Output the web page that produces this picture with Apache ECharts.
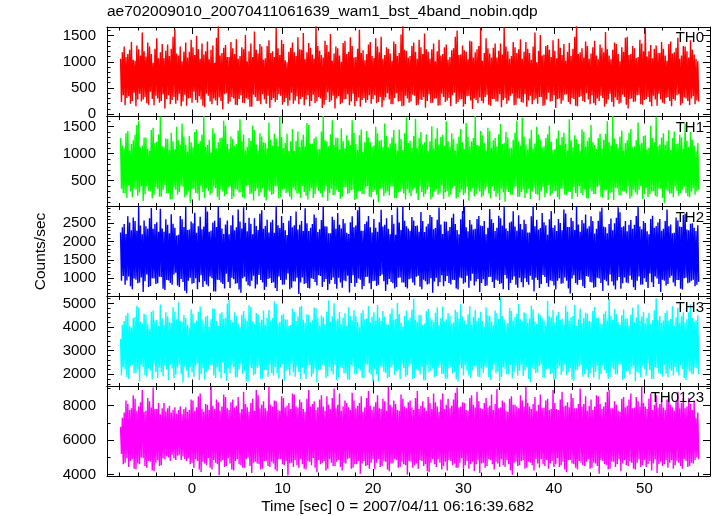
<!DOCTYPE html>
<html><head><meta charset="utf-8">
<script src="https://cdn.jsdelivr.net/npm/echarts@6/dist/echarts.min.js"></script>
<style>html,body{margin:0;padding:0;background:#fff}#c{width:717px;height:516px}</style>
</head><body><div id="c"></div><script>
// ---------- data ----------
const titleText = "ae702009010_20070411061639_wam1_bst_4band_nobin.qdp";
const xAxisName = "Time [sec] 0 = 2007/04/11 06:16:39.682";
const yAxisName = "Counts/sec";
const panelNames = ["TH0", "TH1", "TH2", "TH3", "TH0123"];
const timeStart = -7.9;
const timeStep = 0.1;

const th0 = [
1060,230,1180,360,1290,170,1090,310,1150,340,1230,200,1380,250,1040,410,1020,150,1310,280,1240,390,1120,240,1560,280,1200,330,1100,210,1370,180,1290,430,1150,290,980,170,1250,350,
1450,300,1070,220,1180,250,1340,380,1070,110,1210,290,1330,360,1110,190,1250,270,1480,330,1620,200,1160,260,1120,390,1290,150,1010,240,1190,370,1370,160,1080,300,1190,310,1420,220,
1280,430,1130,270,1500,220,1240,340,1060,280,1350,160,1140,130,1200,390,1390,350,1050,240,1230,190,1310,300,980,260,1460,170,1680,320,1120,250,1170,90,1270,380,1320,400,1090,200,
1090,240,1380,330,1260,300,1150,180,1430,170,1060,290,1110,360,1280,220,1240,210,1510,310,1010,280,1200,140,1350,140,1090,370,1580,330,1230,250,1160,250,1340,190,1290,380,1040,280,
1070,200,1300,350,1410,120,1170,270,1200,310,1090,230,1650,270,1260,380,1130,350,1420,180,1340,230,1030,310,990,160,1190,260,1270,410,1370,200,1180,260,1110,340,1470,190,1240,290,
1230,330,1550,170,1050,280,1180,360,1360,150,1270,250,1140,370,1060,210,1690,240,1300,330,1210,300,1130,120,1080,180,1400,270,1320,420,1190,230,1530,260,1020,350,1160,110,1290,300,
1260,340,1120,190,1000,220,1360,280,1400,290,1150,380,1190,170,1470,240,1300,390,1080,150,1090,250,1250,320,1610,140,1170,270,1220,310,1030,220,1150,270,1330,360,1380,200,1110,290,
1070,360,1450,210,1290,230,1180,330,1480,130,1060,260,1130,320,1280,400,1250,280,1160,190,1020,190,1390,310,1340,400,1110,240,1170,250,1520,150,1700,160,1230,350,1210,300,1080,220,
1110,240,1300,370,1370,350,1190,170,1060,180,1420,280,1280,270,1150,330,1540,120,1240,250,1190,380,1060,210,1240,220,1350,300,1010,300,1200,160,1420,170,1120,390,1150,330,1280,230,
1330,260,1040,310,1090,150,1220,360,1260,410,1480,200,1600,230,1130,280,1140,290,1310,140,1220,190,1190,340,1050,350,1400,260,1390,100,1080,300,1180,270,1240,210,1300,320,1650,250,
1020,210,1170,330,1450,370,1260,180,1160,160,1080,290,1270,290,1350,240,1080,240,1210,380,1350,130,1140,270,1660,310,1290,200,1200,260,1060,350,1110,390,1380,170,1280,180,1170,300,
1240,300,1430,230,1060,220,1190,380,1380,140,1250,260,1170,350,1040,190,1290,270,1560,300,990,200,1210,330,1510,330,1120,160,1140,170,1300,280,1320,410,1230,240,1090,250,1410,360,
1210,120,1070,290,1440,300,1270,200,1130,260,1340,370,1020,380,1190,230,1360,190,1110,310,1250,290,1480,160,1690,150,1150,330,1180,340,1260,250,1080,230,1390,400,1300,280,1060,190,
1160,360,1280,210,1400,170,1120,300,1050,250,1330,350,1270,310,1180,140,1570,200,1240,280,1120,390,1050,230,1230,140,1370,320,1340,270,1150,200,1010,220,1280,370,1190,330,1460,180,
1480,110,1130,290,1150,300,1300,230,1260,240,1070,360,1090,370,1420,190,1350,180,1200,270,1640,290,1100,330,1200,230,1320,150,1070,350,1250,280,1310,160,1170,390,1170,280,1380,220,
1250,200,1120,310,1020,330,1340,250,1390,150,1160,290,1180,260,1270,360,1460,380,1060,170,1120,210,1300,320,1290,300,1200,250,1080,170,1410,300,1230,340,1140,190,1060,260,1010,240
];
const th1 = [
1290,350,1150,270,1100,260,1380,180,1420,410,1060,300,1180,190,1250,360,1350,330,1530,220,1610,280,1120,390,1150,120,1300,250,1300,390,1090,310,1050,300,1440,170,1480,240,1200,380,
1220,350,1360,200,1690,200,1140,330,1130,420,1280,260,1270,270,1070,150,1390,160,1230,380,1080,330,1500,240,1250,290,1160,410,1560,380,1320,190,1170,230,1040,300,1330,90,1210,350,
1120,340,1400,270,1450,260,1190,130,1240,400,1350,290,1700,180,1130,360,1160,310,1260,240,1020,270,1470,390,1380,360,1100,200,1210,140,1290,330,1300,300,1610,210,1520,250,1180,370,
1090,390,1320,160,1270,200,1150,340,1180,330,1430,280,1640,280,1230,190,1350,170,1060,400,1130,420,1290,250,1240,260,1520,130,1440,310,1170,350,1060,210,1380,280,1320,360,1210,190,
1200,130,1100,320,1580,300,1260,240,1150,250,1370,400,1280,390,1140,170,1690,190,1310,330,1110,340,1200,270,1370,280,1050,200,1230,150,1460,370,1050,320,1240,260,1410,260,1130,180,
1260,400,1350,290,1140,220,1570,150,1530,300,1190,360,1190,180,1280,250,1320,370,1090,310,1080,260,1410,190,1700,310,1250,400,1230,120,1140,270,1360,350,1620,230,1160,240,1300,330,
1290,290,1080,160,1470,200,1230,380,1100,380,1340,250,1250,270,1160,320,1620,330,1390,140,1180,160,1070,300,1340,310,1450,250,1030,250,1210,370,1420,400,1300,200,1210,190,1130,290,
1150,320,1500,240,1380,100,1240,350,1260,350,1120,210,1560,270,1330,300,1120,230,1190,390,1300,390,1440,180,1190,180,1060,280,1450,300,1270,350,1070,260,1380,150,1680,340,1200,270,
1240,210,1110,320,1330,370,1650,260,1100,140,1290,390,1400,290,1170,200,1210,250,1360,330,1050,380,1230,150,1510,200,1100,300,1280,330,1470,240,1170,270,1310,410,1350,160,1150,280,
1600,310,1230,200,1130,240,1380,360,1270,400,1060,170,1190,190,1320,280,1460,330,1210,230,1080,270,1570,380,1310,130,1140,300,1230,360,1290,210,1700,250,1160,340,1150,300,1420,190,
1340,220,1200,330,1060,380,1480,260,1420,170,1110,390,1250,310,1290,200,1140,260,1360,140,1550,350,1180,280,1200,110,1400,330,1300,290,1100,240,1110,240,1260,370,1390,400,1610,200,
1230,200,1150,290,1670,330,1320,180,1170,270,1080,350,1280,160,1440,300,1090,370,1190,250,1500,240,1350,130,1260,300,1120,380,1140,190,1290,270,1360,420,1520,220,1220,260,1070,310,
1080,310,1280,190,1430,150,1160,350,1310,350,1390,240,1190,230,1060,300,1640,290,1250,160,1120,380,1340,270,1270,200,1180,400,1050,270,1450,230,1400,330,1130,180,1240,170,1300,350,
1530,300,1210,250,1160,250,1090,380,1290,410,1370,200,1100,180,1260,320,1370,320,1600,140,1210,270,1150,290,1700,140,1280,370,1180,360,1110,230,1320,230,1430,310,1060,300,1200,260,
1250,390,1390,170,1460,210,1120,330,1140,280,1250,240,1580,330,1170,400,1200,160,1330,250,1340,370,1080,190,1110,250,1520,300,1290,310,1210,220,1690,200,1140,350,1170,350,1300,180,
1380,80,1160,330,1230,300,1440,260,1070,260,1290,190,1410,390,1180,310,1190,220,1350,270,1300,330,1090,380,1560,270,1240,210,1130,190,1400,300,1260,360,1150,240,1040,300,1200,330
];
const th2 = [
2250,930,2390,1060,2480,820,2210,940,2690,1050,2520,780,2310,700,2660,990,2560,960,2300,860,2980,880,2440,1020,2200,620,2580,920,2420,1100,2350,760,2640,790,2920,1000,2350,990,2480,840,
2530,860,2270,1040,2900,1030,2360,710,2270,680,2610,950,2460,940,2230,870,2750,820,2490,1100,2380,1150,2170,800,2190,760,2700,980,2610,900,2400,660,2960,590,2320,930,2330,1010,2550,850,
2500,870,2790,1000,2240,700,2420,890,2680,1080,2340,760,2410,920,2960,830,2820,780,2270,1050,2300,1000,2520,640,2570,640,2400,960,2980,950,2650,880,2360,840,2210,720,2470,1120,2580,900,
2200,730,2450,1010,2720,970,2310,850,2390,860,2880,690,2550,600,2360,1000,2940,1040,2510,910,2280,810,2650,780,2490,930,2200,1070,2640,720,2430,830,2320,1090,2760,950,2860,880,2350,680,
2430,770,2600,980,2250,1000,2530,870,2600,890,2240,730,2980,650,2450,1050,2370,950,2700,820,2510,830,2310,960,2180,1130,2570,700,2700,740,2390,920,2450,910,2820,1010,2330,570,2460,880,
2560,1020,2290,840,2910,860,2500,730,2290,720,2380,1000,2480,980,2740,900,2650,800,2260,1080,2340,1060,2590,760,2980,900,2420,980,2410,680,2230,850,2230,950,2680,1020,2590,840,2350,710,
2780,1010,2460,880,2360,740,2620,940,2500,920,2240,1070,2210,610,2530,870,2690,1080,2390,770,2440,870,2860,990,2960,960,2300,700,2300,790,2480,1030,2550,1040,2700,860,2390,700,2250,920,
2620,930,2380,790,2270,820,2530,1060,2870,1100,2410,920,2460,650,2640,830,2350,980,2200,900,2730,860,2490,720,2190,760,2940,1010,2520,1020,2320,880,2980,880,2570,760,2420,720,2360,970,
2300,990,2670,880,2580,810,2430,1040,2440,1070,2270,770,2810,700,2560,960,2260,920,2410,830,2490,850,2730,1000,2670,600,2340,910,2370,1010,2600,780,2930,890,2470,1080,2210,780,2550,920,
2540,1060,2300,870,2400,830,2650,960,2760,950,2480,720,2320,690,2200,1020,2610,1000,2840,850,2980,880,2390,1070,2280,740,2590,930,2470,1120,2330,800,2350,910,2620,980,2700,620,2440,870,
2430,970,2560,790,2200,800,2380,1030,2890,1040,2610,900,2510,730,2290,960,2380,930,2710,840,2640,860,2440,700,2960,1090,2360,990,2290,680,2520,870,2550,960,2830,1050,2410,820,2300,740,
2720,1010,2480,890,2330,750,2600,1000,2480,900,2250,820,2250,1070,2690,960,2980,640,2420,1010,2600,950,2330,730,2370,840,2780,1090,2530,1030,2450,870,2190,770,2610,940,2840,920,2380,800,
2450,690,2290,930,2620,1000,2510,850,2310,860,2880,1020,2770,930,2400,720,2400,580,2650,990,2560,1080,2320,870,2980,820,2470,950,2270,960,2590,780,2500,730,2740,1060,2360,1040,2420,900,
2690,880,2560,740,2220,760,2350,1010,2570,990,2820,870,2930,650,2410,960,2390,920,2230,800,2480,1100,2630,910,2310,800,2500,690,2650,940,2940,1030,2800,710,2390,860,2420,1020,2560,880,
2280,860,2460,1070,2590,960,2350,750,2460,680,2700,930,2970,1050,2410,820,2340,830,2560,1000,2510,900,2280,730,2200,1130,2620,890,2710,760,2380,1050,2430,990,2520,840,2620,620,2300,960,
2350,930,2560,800,2880,840,2420,1010,2470,1070,2230,880,2240,780,2660,950,2580,950,2410,710,2400,690,2730,1000,2760,1010,2330,860,2310,880,2490,930,2500,960,2380,780,2290,820,2450,900
];
const th3 = [
3490,1950,4100,2300,4250,2200,4490,1880,4600,1800,4030,2350,3980,2400,4380,2050,4420,2050,4900,2200,4810,1700,4230,2420,4150,2300,4560,1960,4520,1900,4120,2250,3900,2150,4650,1780,4700,2450,4280,2100,
4300,1850,4050,2280,4950,2100,4370,1920,4080,2350,4620,2200,4450,1750,4210,2400,4180,2250,4830,1840,4650,1980,4330,2290,5050,2400,4260,2000,4220,1650,4510,2330,4380,2150,4090,1870,3950,2300,4750,2080,
4560,1900,4180,2380,4280,2450,4640,1760,4870,2000,4320,2260,4120,1780,4430,2100,4490,2200,4010,2390,4330,2380,4790,1950,4760,1850,4250,2310,4050,2100,4560,1820,4620,2500,4350,2040,4390,1720,4990,2250,
5150,2050,4300,2390,4200,2300,4610,1870,4470,1880,4140,2200,3980,2420,4520,2010,4680,2150,4360,1730,4260,1690,4920,2340,4850,2250,4240,1960,4140,2000,4590,2280,4530,2350,4190,1790,4310,1820,4700,2180,
4090,2180,4400,1900,4730,2420,4280,2060,4380,1950,5080,2300,4960,2050,4150,1820,4210,2300,4500,2440,4560,1730,4330,2150,4320,2230,4040,1950,4080,2450,4770,2080,4640,1900,4250,2320,4440,2100,4860,1780,
4900,2280,4310,2010,4170,1800,4540,2360,4520,2380,4200,1900,4290,2020,4820,2250,4790,1660,4370,2170,4060,2200,4490,2400,4410,2350,4130,1840,4660,1920,5120,2290,4230,2120,4450,1990,5000,2400,4280,1750,
4350,1870,4630,2320,4120,2260,4400,2050,4580,2050,4050,1780,4840,1760,4470,2380,4270,2330,4710,2000,4480,2000,4210,2240,3990,2150,4590,1850,4710,1850,4330,2410,4360,2420,4890,2060,4190,1980,4440,1690,
4620,2200,4260,2000,4930,1700,4400,2350,4250,2300,4680,2110,4430,2060,4120,1830,4100,1890,4560,2290,4780,2380,4300,1960,4340,2130,5020,2200,4550,1800,4180,2440,4020,2270,4460,1900,4690,1960,4290,2330,
4400,2430,4740,1800,5200,1850,4310,2220,4230,2150,4520,2000,4510,2320,4080,1750,4150,1740,4670,2380,4760,2080,4390,2140,4300,2250,4210,1880,4600,1930,4830,2290,4070,2400,4370,2010,4870,2020,4240,1820,
4330,1810,4590,2260,4480,2300,4150,2040,4190,2100,4730,1790,4650,1700,4360,2410,4960,2250,4440,1950,4270,2380,4120,2150,4540,1950,4880,1850,4110,2170,4420,2340,4720,2330,4260,1900,4390,1880,4630,2240,
4250,2060,4010,2320,4820,2280,4490,1880,4460,1760,4230,2190,4080,2420,4700,2050,4590,2110,4350,1710,5250,1900,4470,2300,4320,2240,4100,2000,4160,2000,4800,2390,4680,1820,4270,2110,4420,2350,4560,1940,
4970,2150,4330,2400,4240,1930,4620,2160,4560,2310,4190,1800,4360,1670,4900,2280,4740,2200,4230,2050,4130,2080,4580,2350,4500,2400,4370,1860,4280,1850,4060,2220,5100,2250,4450,2000,4410,2050,4720,1770,
4190,1790,4490,2260,4630,2340,4300,1970,4350,2120,4110,2410,4900,1950,4640,2090,4260,2270,4410,1780,4470,1720,4930,2180,4050,2190,4330,2330,4780,2380,4170,1900,4380,2000,4600,2240,4570,1860,4250,2060,
4220,2300,4680,1880,4850,2100,4390,2350,4400,1780,4160,2010,4130,2360,4550,2170,4670,2050,4290,1810,5180,1890,4460,2280,4310,2220,4760,2000,4540,1990,4200,2410,4090,2410,4500,1760,4740,1830,4340,2130,
4370,2140,4060,1990,4520,2290,4810,2350,4210,1700,4400,2090,4950,2080,4250,1870,4440,2340,4630,2200,4160,1940,4380,2460,4600,2180,4140,1800,4290,1800,4710,2310,5220,2270,4300,2040,4480,2010,4180,1900,
4270,2390,4590,2020,4700,1880,4260,2240,4340,2160,4880,1950,4060,2300,4410,2100,4810,1950,4170,2370,4450,2230,4620,1840,4180,1760,4330,2200,4620,2120,4950,2030,4380,2000,4230,2310,4290,2250,4500,2000
];
const th0123 = [
6770,5200,7300,4600,7600,4700,8300,4950,8100,4450,7750,4800,7850,4900,8600,4350,8400,4300,7700,4650,7950,4600,8200,5000,8900,4950,7650,4500,7700,4400,8450,4800,8250,4750,7900,4250,9050,4200,7800,4700,
7800,4850,8150,4500,7500,4550,7850,4950,8150,4900,7650,5050,7850,5000,8000,4800,7600,5150,7750,4950,7900,4850,7550,5100,7750,5150,7950,4850,7500,5050,7800,4900,7900,4800,7650,4950,7750,4600,8350,4700,
8300,4400,7700,4900,7900,4800,8550,4300,8700,4150,7800,4750,7650,4650,8100,4550,8050,4950,7750,4400,9100,4300,8000,4850,7800,4700,8350,4600,8200,3950,7700,4750,7950,4850,8650,4450,8500,4500,7850,4950,
7750,4650,8200,4300,8350,4250,7900,4800,8000,4900,8500,4600,7600,4550,7800,4400,8800,4400,8100,4900,7900,5000,7650,4500,8150,4100,8400,4700,7700,4750,8900,4650,8600,4600,7850,4300,8050,4350,8250,4800,
7850,4800,7700,4500,9100,4450,8050,4750,7950,4650,8300,4300,8250,4200,7750,4900,7700,4900,8550,4600,8450,4550,7900,4800,8000,3950,8150,4650,7800,4700,8700,4450,8650,4850,7950,4550,7900,4400,8350,4900,
8200,4600,7800,4350,7650,4300,8400,4800,8900,4750,7950,4550,8100,4950,8250,4400,7750,4150,7900,4850,8350,4600,8600,4700,7950,4800,7700,4250,8550,4350,8050,4900,7800,4700,8450,4500,9000,4500,7850,4750,
8050,4850,8700,4450,7700,4250,7950,4700,8300,4650,8150,4900,7900,4950,7750,4350,8750,4400,8300,4600,7850,4600,8000,4800,8150,4050,8550,4650,7650,4800,7900,4500,8450,4550,8850,4350,8000,4700,7750,4900,
7950,4300,8200,4700,8600,4900,7850,4450,7800,4500,8400,4800,8250,4750,7700,4300,9100,4200,8050,4650,7900,4650,8300,4900,8100,4850,7750,4400,7700,4450,8650,4750,8400,4600,7950,4550,7850,4000,8200,4800,
8300,4750,7900,4400,7750,4550,8450,4650,8850,4350,7800,4850,8000,4800,8250,4500,7900,4600,7700,4200,8500,4150,8150,4700,7800,4900,8700,4600,8200,4450,7950,4900,7650,4700,8350,4300,8700,4500,7800,4750,
8050,4250,8400,4850,7850,4800,8000,4550,8350,4650,8750,4400,9050,4400,7900,4700,7950,4950,8200,4350,8150,4550,7750,4800,7700,4350,8450,4600,8600,4750,8050,4200,7900,4600,8800,4850,8250,4100,7850,4650,
7800,4700,8150,4400,8450,4500,7900,4900,8000,4850,8650,4600,7750,4300,8100,4750,8950,4650,7850,4450,7900,4900,8300,4550,8200,4450,7700,4850,7650,4600,8400,4250,8550,4000,8050,4700,8050,4750,7950,4500,
7850,4550,8600,4800,8300,4850,7950,4350,9100,4400,8150,4750,7950,4700,7800,4550,8100,4250,8500,4900,7700,4650,8050,4400,8650,4900,7850,4600,7900,4500,8300,4850,8400,4350,7750,4650,7800,4800,8900,4450,
8150,4600,7800,4950,7750,4450,8350,4550,8800,4750,7950,4300,8000,4150,8200,4850,7900,4850,8700,4650,8450,4600,7850,4400,7850,4300,8100,4800,9000,4700,7950,4550,8100,4500,8550,4750,7700,4900,8000,4350,
8350,4400,7750,4700,7950,4650,8600,4500,8550,4050,8100,4850,7800,4800,7950,4600,8200,4550,8800,4300,8900,4350,7850,4750,7850,4750,8250,4450,8050,4600,7700,4900,7650,4200,8400,4650,8500,4850,7900,4550,
8000,4500,8350,4800,8700,4700,7850,4350,7900,4300,8500,4700,8250,4900,7950,4450,9100,4550,8150,4850,7950,4450,7800,4600,8400,4800,8700,4250,7750,4650,8050,4900,8600,4100,7900,4600,8100,4750,8350,4500,
7900,4600,7750,4850,8350,4400,8600,4700,8050,4850,7900,4350,7700,4550,8250,4800,8800,4700,7850,4500,8150,4350,8450,4900,7850,4800,7950,4450,8450,4500,8100,4700,7750,4650,8300,4850,7300,5000,7600,4900
];
const seriesValues = [th0, th1, th2, th3, th0123];

const xMajorTicks = [0, 10, 20, 30, 40, 50];
const xMinorTicks = [-8,-6,-4,-2,2,4,6,8,12,14,16,18,22,24,26,28,32,34,36,38,42,44,46,48,52,54,56];
const yMajorTicks = [
  [0, 500, 1000, 1500],
  [500, 1000, 1500],
  [1000, 1500, 2000, 2500],
  [2000, 3000, 4000, 5000],
  [4000, 6000, 8000]
];
const yMinorTicks = [
  [100,200,300,400,600,700,800,900,1100,1200,1300,1400,1600],
  [100,200,300,400,600,700,800,900,1100,1200,1300,1400,1600],
  [600,700,800,900,1100,1200,1300,1400,1600,1700,1800,1900,2100,2200,2300,2400,2600,2700,2800,2900],
  [1600,1800,2200,2400,2600,2800,3200,3400,3600,3800,4200,4400,4600,4800,5200],
  [5000, 7000, 9000]
];
const xRange = [-9.4, 57.25];
const yRanges = [[-45, 1665], [20, 1690], [500, 2960], [1485, 5290], [3925, 9110]];

// ---------- layout / style ----------
const colors = ['#ff0000', '#00ff00', '#0000ff', '#00ffff', '#ff00ff'];
const tops = [27, 116.5, 206.5, 296.5, 386.5];
const heights = [89.5, 90, 90, 90, 89.5];
const FONT = '"Liberation Sans", Arial, Helvetica, sans-serif';
const MAJOR_LEN = 7, MINOR_LEN = 3.5;
const plain = v => String(v);

const grids = [], xAxes = [], yAxes = [], series = [];
const titles = [{
  text: titleText, left: 107, top: 4, padding: 0,
  textStyle: {color: '#000', fontSize: 15.5, fontWeight: 'normal', fontFamily: FONT, lineHeight: 16}
}];

seriesValues.forEach((vals, k) => {
  grids.push({left: 107, right: 7, top: tops[k], height: heights[k], outerBoundsMode: 'none', containLabel: false});
  const xi = xAxes.length;
  ['bottom', 'top'].forEach(pos => {
    const isLabelAxis = pos === 'bottom' && k === seriesValues.length - 1;
    const major = {
      type: 'value', gridIndex: k, position: pos, min: xRange[0], max: xRange[1],
      axisLine: {show: true, onZero: false, lineStyle: {color: '#000', width: 1}},
      axisTick: {show: true, inside: true, length: MAJOR_LEN, customValues: xMajorTicks, lineStyle: {color: '#000', width: 1}},
      axisLabel: {show: isLabelAxis, customValues: xMajorTicks, formatter: plain, margin: 5, color: '#000', fontSize: 15, fontFamily: FONT},
      splitLine: {show: false}, minorTick: {show: false}
    };
    if (isLabelAxis) {
      major.name = xAxisName;
      major.nameLocation = 'middle';
      major.nameGap = 23;
      major.nameTextStyle = {color: '#000', fontSize: 15.5, fontFamily: FONT, padding: [0, 22, 0, 0]};
    }
    xAxes.push(major);
    xAxes.push({
      type: 'value', gridIndex: k, position: pos, min: xRange[0], max: xRange[1],
      axisLine: {show: false, onZero: false},
      axisTick: {show: true, inside: true, length: MINOR_LEN, customValues: xMinorTicks, lineStyle: {color: '#000', width: 1}},
      axisLabel: {show: false}, splitLine: {show: false}
    });
  });
  const yi = yAxes.length;
  ['left', 'right'].forEach(pos => {
    const isLabelAxis = pos === 'left';
    const major = {
      type: 'value', gridIndex: k, position: pos, min: yRanges[k][0], max: yRanges[k][1],
      axisLine: {show: true, onZero: false, lineStyle: {color: '#000', width: 1}},
      axisTick: {show: true, inside: true, length: MAJOR_LEN, customValues: yMajorTicks[k], lineStyle: {color: '#000', width: 1}},
      axisLabel: {show: isLabelAxis, customValues: yMajorTicks[k], formatter: plain, margin: 11, color: '#000', fontSize: 15, fontFamily: FONT},
      splitLine: {show: false}
    };
    if (isLabelAxis && k === 2) {
      major.name = yAxisName;
      major.nameLocation = 'middle';
      major.nameGap = 58;
      major.nameTextStyle = {color: '#000', fontSize: 15.5, fontFamily: FONT};
    }
    yAxes.push(major);
    yAxes.push({
      type: 'value', gridIndex: k, position: pos, min: yRanges[k][0], max: yRanges[k][1],
      axisLine: {show: false, onZero: false},
      axisTick: {show: true, inside: true, length: MINOR_LEN, customValues: yMinorTicks[k], lineStyle: {color: '#000', width: 1}},
      axisLabel: {show: false}, splitLine: {show: false}
    });
  });
  series.push({
    type: 'line', xAxisIndex: xi, yAxisIndex: yi,
    data: vals.map((v, i) => [timeStart + i * timeStep, v]),
    showSymbol: false, symbol: 'none', sampling: 'none', clip: true, silent: true,
    lineStyle: {color: colors[k], width: 1.4}, itemStyle: {color: colors[k]},
    emphasis: {disabled: true}, z: 1
  });
  titles.push({
    text: panelNames[k], right: 13, top: tops[k] + 3.5, padding: 0,
    textStyle: {color: '#000', fontSize: 15, fontWeight: 'normal', fontFamily: FONT, lineHeight: 15}
  });
});

const chart = echarts.init(document.getElementById('c'), null, {renderer: 'canvas'});
chart.setOption({
  backgroundColor: '#fff',
  animation: false,
  title: titles,
  grid: grids,
  xAxis: xAxes,
  yAxis: yAxes,
  series: series,
  tooltip: {show: false},
  legend: {show: false}
});
</script></body></html>
